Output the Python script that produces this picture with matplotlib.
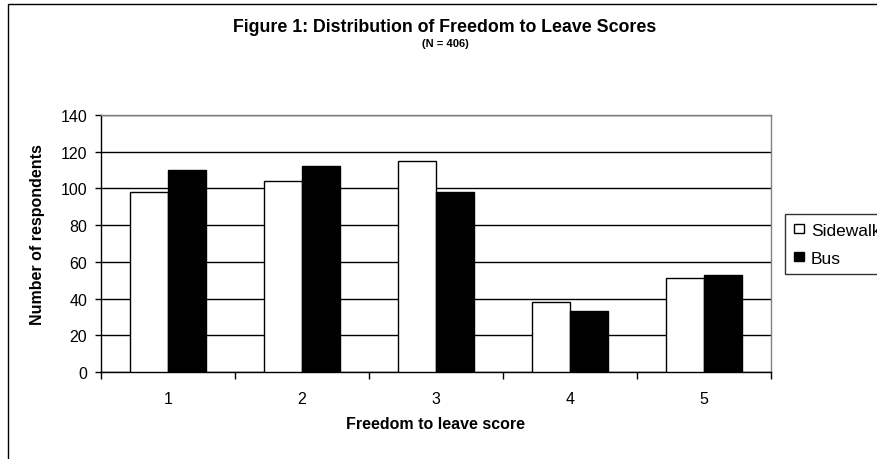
import matplotlib
matplotlib.use("Agg")
import matplotlib.pyplot as plt
from matplotlib.patches import Rectangle
import numpy as np

plt.rcParams['font.family'] = ['Liberation Sans', 'DejaVu Sans']

scores = ["1", "2", "3", "4", "5"]
sidewalk = [98, 104, 115, 38, 51]
bus = [110, 112, 98, 33, 53]
series_names = ["Sidewalk", "Bus"]
y_ticks = [0, 20, 40, 60, 80, 100, 120, 140]

W, H = 878, 460
fig = plt.figure(figsize=(W / 100, H / 100), dpi=100)

# outer chart-area border (runs off the right and bottom edges)
fig.patches.append(Rectangle((8 / W, -0.1), 1.2, 1 - 5 / H + 0.1,
                             transform=fig.transFigure, fill=False,
                             edgecolor="black", linewidth=1.0, zorder=0))

ax = fig.add_axes([101 / W, 1 - 373 / H, 670 / W, 257 / H])

x = np.arange(len(scores))
w = 1 / 3.5
ax.bar(x - w / 2, sidewalk, width=w, color="white", edgecolor="black",
       linewidth=1.0, label=series_names[0], zorder=3)
ax.bar(x + w / 2, bus, width=w, color="black", edgecolor="black",
       linewidth=1.0, label=series_names[1], zorder=3)

ax.set_xlim(-0.5, len(scores) - 0.5)
ax.set_ylim(0, 140)
ax.set_yticks(y_ticks)
ax.yaxis.grid(True, color="black", linewidth=1.0, zorder=0)
ax.set_axisbelow(True)

# category boundaries carry the tick marks, centres carry the labels
ax.set_xticks(np.arange(-0.5, len(scores), 1.0))
ax.set_xticklabels([])
ax.set_xticks(x, minor=True)
ax.set_xticklabels(scores, minor=True)
ax.tick_params(axis="x", which="major", length=5, width=1, direction="out")
ax.tick_params(axis="x", which="minor", length=0, pad=14, labelsize=11.5)
ax.tick_params(axis="y", length=4, width=1, direction="out", pad=6, labelsize=11.5)

for s in ("top", "right"):
    ax.spines[s].set_color("#808080")
    ax.spines[s].set_linewidth(1.0)
for s in ("left", "bottom"):
    ax.spines[s].set_color("black")
    ax.spines[s].set_linewidth(1.0)

ax.set_xlabel("Freedom to leave score", fontsize=11.5, fontweight="bold", labelpad=7)
ax.set_ylabel("Number of respondents", fontsize=11.5, fontweight="bold", labelpad=8)
ax.yaxis.set_label_coords(-0.083, 0.54)

fig.text(445 / W, 1 - 28 / H, "Figure 1: Distribution of Freedom to Leave Scores",
         ha="center", va="center", fontsize=12.8, fontweight="bold")
fig.text(445 / W, 1 - 44 / H, "(N = 406)", ha="center", va="center",
         fontsize=8, fontweight="bold")

leg = fig.legend(loc="upper left", bbox_to_anchor=(785 / W, 1 - 215 / H),
                 bbox_transform=fig.transFigure, frameon=True, fancybox=False,
                 edgecolor="black", fontsize=12.5, handlelength=0.6,
                 handleheight=0.5, handletextpad=0.4, borderpad=0.5,
                 labelspacing=0.75, borderaxespad=0)
leg.get_frame().set_linewidth(1.0)

fig.savefig("out.png", dpi=100)
